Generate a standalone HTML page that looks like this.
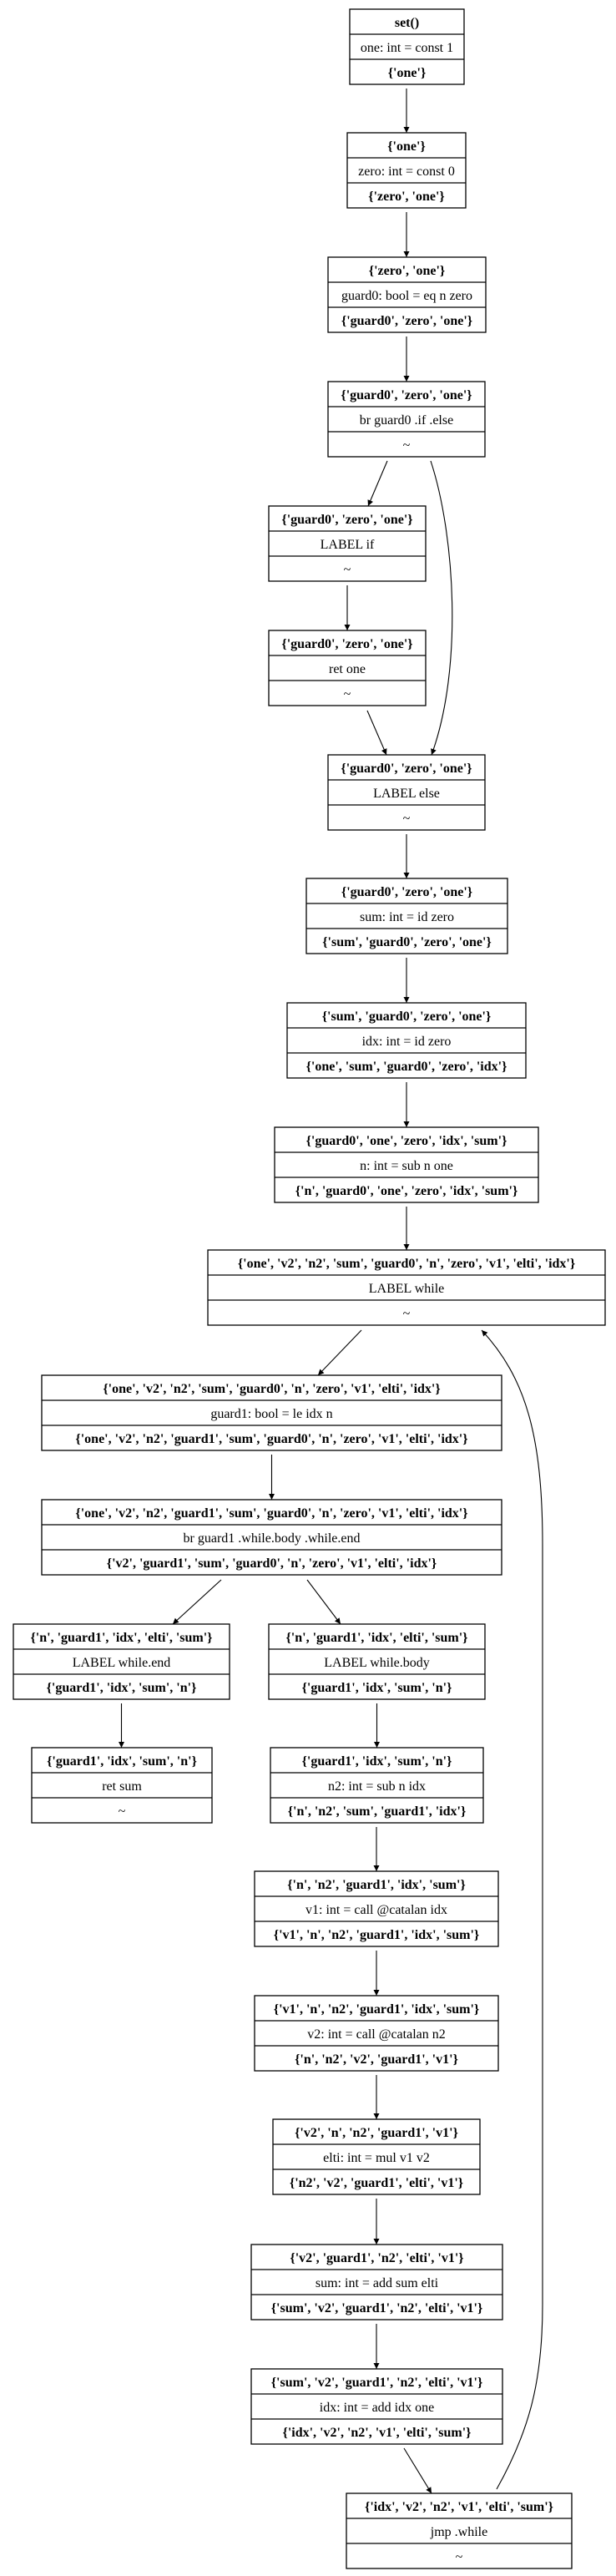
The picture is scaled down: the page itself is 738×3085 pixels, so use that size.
<!DOCTYPE html>
<html><head><meta charset="utf-8"><style>
html,body{margin:0;padding:0;background:#fff;}
svg{display:block;}
text{font-family:"Liberation Serif",serif;font-size:16px;text-anchor:middle;fill:#000;}
.b{font-weight:bold;}
rect,line.s{stroke:#000;stroke-width:1.3;fill:none;}
path.e,line.e{stroke:#000;stroke-width:1.1;fill:none;}
</style></head><body>
<svg width="738" height="3085" viewBox="0 0 738 3085" xmlns="http://www.w3.org/2000/svg" font-family="Liberation Serif, serif" font-size="16">
<defs><marker id="a" viewBox="0 0 10 10" refX="10" refY="5" markerWidth="10" markerHeight="7" markerUnits="userSpaceOnUse" orient="auto"><path d="M0,0 L10,5 L0,10 z" fill="#000"/></marker></defs>

<rect x="419" y="11" width="137" height="90"/><line class="s" x1="419" y1="41" x2="556" y2="41"/><line class="s" x1="419" y1="71" x2="556" y2="71"/>
<text class="b" x="487.5" y="32" font-size="16">set()</text><text x="487.5" y="62" font-size="16">one: int = const 1</text><text class="b" x="487.5" y="92" font-size="16">{'one'}</text>

<rect x="416" y="159" width="142" height="90"/><line class="s" x1="416" y1="189" x2="558" y2="189"/><line class="s" x1="416" y1="219" x2="558" y2="219"/>
<text class="b" x="487" y="180" font-size="16">{'one'}</text><text x="487" y="210" font-size="16">zero: int = const 0</text><text class="b" x="487" y="240" font-size="16">{'zero', 'one'}</text>

<rect x="393" y="308" width="189" height="90"/><line class="s" x1="393" y1="338" x2="582" y2="338"/><line class="s" x1="393" y1="368" x2="582" y2="368"/>
<text class="b" x="487.5" y="329" font-size="16">{'zero', 'one'}</text><text x="487.5" y="359" font-size="16">guard0: bool = eq n zero</text><text class="b" x="487.5" y="389" font-size="16">{'guard0', 'zero', 'one'}</text>

<rect x="393" y="457" width="188" height="90"/><line class="s" x1="393" y1="487" x2="581" y2="487"/><line class="s" x1="393" y1="517" x2="581" y2="517"/>
<text class="b" x="487" y="478" font-size="16">{'guard0', 'zero', 'one'}</text><text x="487" y="508" font-size="16">br guard0 .if .else</text><text x="487" y="538" font-size="16">~</text>

<rect x="322" y="606" width="188" height="90"/><line class="s" x1="322" y1="636" x2="510" y2="636"/><line class="s" x1="322" y1="666" x2="510" y2="666"/>
<text class="b" x="416" y="627" font-size="16">{'guard0', 'zero', 'one'}</text><text x="416" y="657" font-size="16">LABEL if</text><text x="416" y="687" font-size="16">~</text>

<rect x="322" y="755" width="188" height="90"/><line class="s" x1="322" y1="785" x2="510" y2="785"/><line class="s" x1="322" y1="815" x2="510" y2="815"/>
<text class="b" x="416" y="776" font-size="16">{'guard0', 'zero', 'one'}</text><text x="416" y="806" font-size="16">ret one</text><text x="416" y="836" font-size="16">~</text>

<rect x="393" y="904" width="188" height="90"/><line class="s" x1="393" y1="934" x2="581" y2="934"/><line class="s" x1="393" y1="964" x2="581" y2="964"/>
<text class="b" x="487" y="925" font-size="16">{'guard0', 'zero', 'one'}</text><text x="487" y="955" font-size="16">LABEL else</text><text x="487" y="985" font-size="16">~</text>

<rect x="367" y="1052" width="241" height="90"/><line class="s" x1="367" y1="1082" x2="608" y2="1082"/><line class="s" x1="367" y1="1112" x2="608" y2="1112"/>
<text class="b" x="487.5" y="1073" font-size="16">{'guard0', 'zero', 'one'}</text><text x="487.5" y="1103" font-size="16">sum: int = id zero</text><text class="b" x="487.5" y="1133" font-size="16">{'sum', 'guard0', 'zero', 'one'}</text>

<rect x="344" y="1201" width="286" height="90"/><line class="s" x1="344" y1="1231" x2="630" y2="1231"/><line class="s" x1="344" y1="1261" x2="630" y2="1261"/>
<text class="b" x="487" y="1222" font-size="16">{'sum', 'guard0', 'zero', 'one'}</text><text x="487" y="1252" font-size="16">idx: int = id zero</text><text class="b" x="487" y="1282" font-size="16">{'one', 'sum', 'guard0', 'zero', 'idx'}</text>

<rect x="329" y="1350" width="316" height="90"/><line class="s" x1="329" y1="1380" x2="645" y2="1380"/><line class="s" x1="329" y1="1410" x2="645" y2="1410"/>
<text class="b" x="487" y="1371" font-size="16">{'guard0', 'one', 'zero', 'idx', 'sum'}</text><text x="487" y="1401" font-size="16">n: int = sub n one</text><text class="b" x="487" y="1431" font-size="16">{'n', 'guard0', 'one', 'zero', 'idx', 'sum'}</text>

<rect x="249" y="1497" width="476" height="90"/><line class="s" x1="249" y1="1527" x2="725" y2="1527"/><line class="s" x1="249" y1="1557" x2="725" y2="1557"/>
<text class="b" x="487" y="1518" font-size="16">{'one', 'v2', 'n2', 'sum', 'guard0', 'n', 'zero', 'v1', 'elti', 'idx'}</text><text x="487" y="1548" font-size="16">LABEL while</text><text x="487" y="1578" font-size="16">~</text>

<rect x="50" y="1647" width="551" height="90"/><line class="s" x1="50" y1="1677" x2="601" y2="1677"/><line class="s" x1="50" y1="1707" x2="601" y2="1707"/>
<text class="b" x="325.5" y="1668" font-size="16">{'one', 'v2', 'n2', 'sum', 'guard0', 'n', 'zero', 'v1', 'elti', 'idx'}</text><text x="325.5" y="1698" font-size="16">guard1: bool = le idx n</text><text class="b" x="325.5" y="1728" font-size="16">{'one', 'v2', 'n2', 'guard1', 'sum', 'guard0', 'n', 'zero', 'v1', 'elti', 'idx'}</text>

<rect x="50" y="1796" width="551" height="90"/><line class="s" x1="50" y1="1826" x2="601" y2="1826"/><line class="s" x1="50" y1="1856" x2="601" y2="1856"/>
<text class="b" x="325.5" y="1817" font-size="16">{'one', 'v2', 'n2', 'guard1', 'sum', 'guard0', 'n', 'zero', 'v1', 'elti', 'idx'}</text><text x="325.5" y="1847" font-size="16">br guard1 .while.body .while.end</text><text class="b" x="325.5" y="1877" font-size="16">{'v2', 'guard1', 'sum', 'guard0', 'n', 'zero', 'v1', 'elti', 'idx'}</text>

<rect x="16" y="1945" width="259" height="90"/><line class="s" x1="16" y1="1975" x2="275" y2="1975"/><line class="s" x1="16" y1="2005" x2="275" y2="2005"/>
<text class="b" x="145.5" y="1966" font-size="16">{'n', 'guard1', 'idx', 'elti', 'sum'}</text><text x="145.5" y="1996" font-size="16">LABEL while.end</text><text class="b" x="145.5" y="2026" font-size="16">{'guard1', 'idx', 'sum', 'n'}</text>

<rect x="322" y="1945" width="259" height="90"/><line class="s" x1="322" y1="1975" x2="581" y2="1975"/><line class="s" x1="322" y1="2005" x2="581" y2="2005"/>
<text class="b" x="451.5" y="1966" font-size="16">{'n', 'guard1', 'idx', 'elti', 'sum'}</text><text x="451.5" y="1996" font-size="16">LABEL while.body</text><text class="b" x="451.5" y="2026" font-size="16">{'guard1', 'idx', 'sum', 'n'}</text>

<rect x="38" y="2093" width="216" height="90"/><line class="s" x1="38" y1="2123" x2="254" y2="2123"/><line class="s" x1="38" y1="2153" x2="254" y2="2153"/>
<text class="b" x="146" y="2114" font-size="16">{'guard1', 'idx', 'sum', 'n'}</text><text x="146" y="2144" font-size="16">ret sum</text><text x="146" y="2174" font-size="16">~</text>

<rect x="324" y="2093" width="255" height="90"/><line class="s" x1="324" y1="2123" x2="579" y2="2123"/><line class="s" x1="324" y1="2153" x2="579" y2="2153"/>
<text class="b" x="451.5" y="2114" font-size="16">{'guard1', 'idx', 'sum', 'n'}</text><text x="451.5" y="2144" font-size="16">n2: int = sub n idx</text><text class="b" x="451.5" y="2174" font-size="16">{'n', 'n2', 'sum', 'guard1', 'idx'}</text>

<rect x="305" y="2241" width="292" height="90"/><line class="s" x1="305" y1="2271" x2="597" y2="2271"/><line class="s" x1="305" y1="2301" x2="597" y2="2301"/>
<text class="b" x="451" y="2262" font-size="16">{'n', 'n2', 'guard1', 'idx', 'sum'}</text><text x="451" y="2292" font-size="16">v1: int = call @catalan idx</text><text class="b" x="451" y="2322" font-size="16">{'v1', 'n', 'n2', 'guard1', 'idx', 'sum'}</text>

<rect x="305" y="2390" width="292" height="90"/><line class="s" x1="305" y1="2420" x2="597" y2="2420"/><line class="s" x1="305" y1="2450" x2="597" y2="2450"/>
<text class="b" x="451" y="2411" font-size="16">{'v1', 'n', 'n2', 'guard1', 'idx', 'sum'}</text><text x="451" y="2441" font-size="16">v2: int = call @catalan n2</text><text class="b" x="451" y="2471" font-size="16">{'n', 'n2', 'v2', 'guard1', 'v1'}</text>

<rect x="327" y="2538" width="248" height="90"/><line class="s" x1="327" y1="2568" x2="575" y2="2568"/><line class="s" x1="327" y1="2598" x2="575" y2="2598"/>
<text class="b" x="451" y="2559" font-size="16">{'v2', 'n', 'n2', 'guard1', 'v1'}</text><text x="451" y="2589" font-size="16">elti: int = mul v1 v2</text><text class="b" x="451" y="2619" font-size="16">{'n2', 'v2', 'guard1', 'elti', 'v1'}</text>

<rect x="301" y="2688" width="301" height="90"/><line class="s" x1="301" y1="2718" x2="602" y2="2718"/><line class="s" x1="301" y1="2748" x2="602" y2="2748"/>
<text class="b" x="451.5" y="2709" font-size="16">{'v2', 'guard1', 'n2', 'elti', 'v1'}</text><text x="451.5" y="2739" font-size="16">sum: int = add sum elti</text><text class="b" x="451.5" y="2769" font-size="16">{'sum', 'v2', 'guard1', 'n2', 'elti', 'v1'}</text>

<rect x="301" y="2837" width="301" height="90"/><line class="s" x1="301" y1="2867" x2="602" y2="2867"/><line class="s" x1="301" y1="2897" x2="602" y2="2897"/>
<text class="b" x="451.5" y="2858" font-size="16">{'sum', 'v2', 'guard1', 'n2', 'elti', 'v1'}</text><text x="451.5" y="2888" font-size="16">idx: int = add idx one</text><text class="b" x="451.5" y="2918" font-size="16">{'idx', 'v2', 'n2', 'v1', 'elti', 'sum'}</text>

<rect x="415" y="2986" width="270" height="90"/><line class="s" x1="415" y1="3016" x2="685" y2="3016"/><line class="s" x1="415" y1="3046" x2="685" y2="3046"/>
<text class="b" x="550" y="3007" font-size="16">{'idx', 'v2', 'n2', 'v1', 'elti', 'sum'}</text><text x="550" y="3037" font-size="16">jmp .while</text><text x="550" y="3067" font-size="16">~</text>

<line class="e" x1="487" y1="106" x2="487" y2="159" marker-end="url(#a)"/>
<line class="e" x1="487" y1="254" x2="487" y2="308" marker-end="url(#a)"/>
<line class="e" x1="487" y1="403" x2="487" y2="457" marker-end="url(#a)"/>
<path class="e" d="M464,552 L441,606" marker-end="url(#a)"/>
<path class="e" d="M516,552 C545,640 555,800 517,904" marker-end="url(#a)"/>
<line class="e" x1="416" y1="701" x2="416" y2="755" marker-end="url(#a)"/>
<path class="e" d="M440,851 L463,904" marker-end="url(#a)"/>
<line class="e" x1="487" y1="999" x2="487" y2="1052" marker-end="url(#a)"/>
<line class="e" x1="487" y1="1147" x2="487" y2="1201" marker-end="url(#a)"/>
<line class="e" x1="487" y1="1296" x2="487" y2="1350" marker-end="url(#a)"/>
<line class="e" x1="487" y1="1445" x2="487" y2="1497" marker-end="url(#a)"/>
<path class="e" d="M433,1593 L381,1647" marker-end="url(#a)"/>
<line class="e" x1="325.5" y1="1742" x2="325.5" y2="1796" marker-end="url(#a)"/>
<path class="e" d="M265,1892 L207,1945" marker-end="url(#a)"/>
<path class="e" d="M368,1892 L408,1945" marker-end="url(#a)"/>
<line class="e" x1="145.5" y1="2040" x2="145.5" y2="2093" marker-end="url(#a)"/>
<line class="e" x1="451.5" y1="2040" x2="451.5" y2="2093" marker-end="url(#a)"/>
<line class="e" x1="451" y1="2188" x2="451" y2="2241" marker-end="url(#a)"/>
<line class="e" x1="451" y1="2336" x2="451" y2="2390" marker-end="url(#a)"/>
<line class="e" x1="451" y1="2485" x2="451" y2="2538" marker-end="url(#a)"/>
<line class="e" x1="451" y1="2633" x2="451" y2="2688" marker-end="url(#a)"/>
<line class="e" x1="451" y1="2783" x2="451" y2="2837" marker-end="url(#a)"/>
<path class="e" d="M484,2932 L517,2986" marker-end="url(#a)"/>
<path class="e" d="M595,2981 C635,2910 650,2850 650,2760 L650,1850 C650,1720 630,1650 577,1593" marker-end="url(#a)"/>
</svg>
</body></html>
